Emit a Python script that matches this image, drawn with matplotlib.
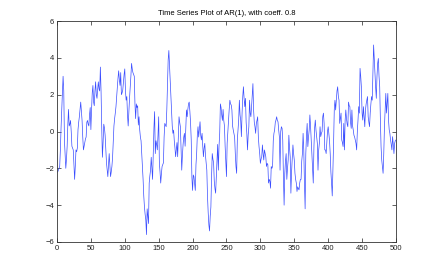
import numpy as np
import matplotlib
matplotlib.use("Agg")
import matplotlib.pyplot as plt

title = "Time Series Plot of AR(1), with coeff. 0.8"
xticks = [0, 50, 100, 150, 200, 250, 300, 350, 400, 450, 500]
yticks = [-6, -4, -2, 0, 2, 4, 6]

values = [
    -2.2, -2.1, -2.0, -1.9, -1.0, 0.2, 1.2, 2.1, 3.0, 2.2,
    -0.5, -1.2, -2.0, -1.5, -0.8, 0.4, 1.2, 0.3, 0.4, 0.6,
    0.0, -0.8, -0.9, -1.0, -1.8, -2.6, -1.9, -1.0, -1.1, -0.9,
    0.1, 0.5, 0.8, 1.2, 1.6, 1.1, 0.6, -0.3, -1.0, -0.8,
    -0.6, -0.4, -0.3, 0.5, 0.6, 0.4, 0.3, 0.9, 1.3, 0.1,
    1.2, 2.1, 2.5, 1.6, 1.4, 2.2, 2.7, 2.0, 1.8, 2.3,
    2.7, 2.3, 2.2, 3.5, 2.2, 0.2, -1.4, -0.6, 0.4, 0.2,
    -0.2, -0.9, -1.7, -2.1, -2.45, -1.8, -1.2, -1.8, -2.45, -2.2,
    -1.9, -1.4, -0.5, 0.3, 0.7, 1.0, 1.35, 1.9, 2.4, 2.9,
    3.3, 2.8, 2.5, 3.2, 2.0, 2.1, 2.25, 2.7, 3.1, 3.4,
    2.2, 1.7, 1.9, 0.9, 0.3, 1.1, 1.8, 2.4, 3.0, 3.7,
    3.4, 3.2, 3.1, 3.0, 1.5, 0.7, 1.5, 1.3, 1.4, 0.35,
    0.8, 0.1, -0.3, -0.5, -1.2, -2.0, -2.6, -3.5, -4.1, -4.5,
    -4.8, -5.6, -4.2, -4.6, -5.0, -2.8, -2.4, -2.1, -1.4, -2.0,
    -2.6, -1.2, 0.2, 1.08, -1.2, -0.5, -0.7, -1.0, -0.2, 0.8,
    -1.7, -2.2, -2.8, -2.3, -1.9, -1.8, -1.7, -0.3, 0.44, 0.35,
    0.26, 1.2, 2.5, 3.9, 4.4, 3.6, 2.7, 2.0, 1.2, 0.3,
    -0.1, 0.08, -0.5, -0.9, -1.37, -1.0, -0.6, -1.37, -0.3, 0.8,
    0.5, 0.26, -1.0, -2.1, -1.3, -0.7, -0.3, -0.1, -0.8, 0.2,
    1.17, 0.8, 1.2, 1.5, 1.6, 1.1, 0.5, -0.46, -2.5, -3.2,
    -2.36, -2.45, -2.8, -3.2, -1.8, -1.2, -0.2, 0.26, -0.3, 0.1,
    0.53, -0.2, -0.46, -0.1, -0.8, -1.37, -0.9, -0.64, -1.3, -1.7,
    -2.1, -3.5, -4.4, -5.07, -5.4, -4.6, -4.1, -2.45, -1.2, -1.5,
    -1.7, -2.7, -3.1, -3.35, -2.45, -1.5, -0.7, -2.1, -0.8, -0.1,
    1.5, 1.3, 0.9, 0.6, 1.2, 0.6, 0.3, -0.8, -1.6, -2.45,
    -0.64, 0.0, 0.6, 1.2, 1.7, 1.5, 1.44, 1.17, 0.3, 0.08,
    -0.1, -0.3, -1.2, -1.9, -2.27, -0.46, 0.1, 0.62, 1.7, 0.9,
    0.6, -0.28, 1.0, 1.9, 2.43, 1.8, 1.35, 1.8, 0.5, -0.1,
    -1.0, -0.2, 0.26, 1.7, 1.0, 0.8, 1.35, 2.0, 2.6, 1.17,
    0.5, 0.26, -0.1, 0.44, 0.6, 0.8, -0.3, -0.82, -1.2, -1.73,
    -1.5, -1.37, -0.73, -1.2, -1.55, -1.0, -1.2, -1.37, -1.9, -1.73,
    -1.8, -2.8, -2.6, -2.7, -3.08, -1.9, -2.0, -1.9, -0.5, -0.1,
    0.08, 0.5, 0.62, 0.8, 0.6, 0.53, 0.08, -0.28, -2.1, 0.0,
    0.26, 0.17, -0.46, -2.5, -4.0, -2.27, -1.6, -1.2, -2.6, -2.0,
    -1.55, -0.2, -0.9, -1.37, -3.35, -2.2, -1.5, -0.73, -1.2, -1.55,
    -2.27, -2.6, -2.8, -3.26, -3.0, -3.1, -3.17, -2.8, -2.6, -2.6,
    -1.6, -1.2, -0.1, -1.0, -2.8, -4.2, -1.2, -0.2, 0.44, -0.82,
    -0.3, 0.08, 0.9, 0.3, -0.46, -1.2, -2.0, -2.8, -0.82, 0.2,
    0.62, 0.08, -0.3, -0.64, -2.1, -1.0, -0.64, 0.26, -0.28, -0.1,
    0.0, 0.8, 1.0, 0.44, -1.0, -1.0, -1.2, -0.64, 0.0, 0.26,
    -0.1, -0.5, -1.2, -2.2, -2.8, -3.5, -2.1, -0.6, 1.2, 1.7,
    1.17, 1.7, 2.2, 2.43, 1.9, 1.7, 0.44, 0.7, 1.0, -0.46,
    -0.6, -0.82, 0.44, -1.0, 0.6, 1.17, 0.7, 0.4, 0.26, 1.6,
    1.4, 1.35, 0.5, 0.17, 1.17, 0.3, 0.08, -0.2, -0.3, -0.46,
    -0.64, -1.0, 0.0, 0.62, 1.35, 1.0, 3.43, 3.0, 2.4, 1.0,
    0.62, 1.35, 0.8, 0.26, 1.17, 1.5, 1.7, 1.9, 0.8, 0.5,
    0.26, 1.0, 1.5, 1.9, 1.7, 3.16, 4.7, 3.9, 3.16, 2.4,
    1.8, 3.0, 3.7, 3.97, 3.0, 2.43, 0.62, -0.82, -1.55, -1.9,
    -2.27, -1.2, 0.26, 1.2, 2.07, 1.0, 1.5, 2.07, 0.62, 0.1,
    -0.1, -0.46, -0.7, -1.0, -0.28, -0.7, -1.2, -0.64, -0.5, -0.46,
]
steps = np.arange(1, len(values) + 1)

plt.rcParams['font.family'] = ['Liberation Sans Narrow', 'Liberation Sans', 'DejaVu Sans']

fig = plt.figure(figsize=(4.36, 2.73), dpi=100, facecolor='white')
ax = fig.add_axes([0.1307, 0.1136, 0.7775, 0.8094])
ax.plot(steps, values, color='#3a4dff', linewidth=0.5)
ax.set_xlim(0, 500)
ax.set_ylim(-6, 6)
ax.set_xticks(xticks)
ax.set_yticks(yticks)
ax.tick_params(direction='in', length=3, width=0.5, labelsize=5.5,
               top=True, right=True, pad=2, colors='#222222')
for s in ax.spines.values():
    s.set_linewidth(0.6)
    s.set_color('#333333')
ax.set_title(title, fontsize=5.5, pad=4)
fig.savefig('out.png', dpi=100, facecolor='white')
